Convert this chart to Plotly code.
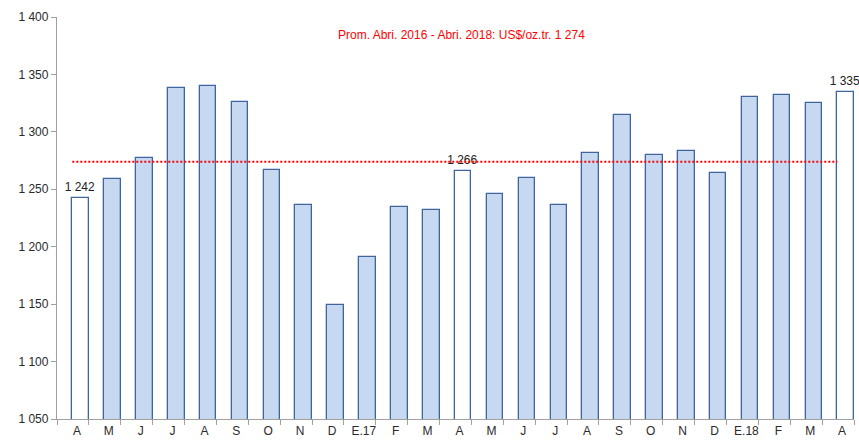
import plotly.graph_objects as go

months = ["A", "M", "J", "J", "A", "S", "O", "N", "D", "E.17", "F", "M",
          "A", "M", "J", "J", "A", "S", "O", "N", "D", "E.18", "F", "M", "A"]
prices = [1242, 1259, 1277, 1338, 1340, 1326, 1267, 1236, 1149, 1191, 1235, 1232,
          1266, 1246, 1260, 1236, 1282, 1315, 1280, 1283, 1264, 1330, 1332, 1325, 1335]
labelled = [0, 12, 24]
average = 1274
title_text = "Prom. Abri. 2016 - Abri. 2018: US$/oz.tr. 1 274"
y_ticks = [1050, 1100, 1150, 1200, 1250, 1300, 1350, 1400]

idx = list(range(len(months)))
fill = ["#FFFFFF" if i in labelled else "#C6D9F1" for i in idx]
texts = [f"{prices[i]:,}".replace(",", " ") if i in labelled else "" for i in idx]

fig = go.Figure()
fig.add_trace(go.Bar(
    x=idx, y=prices, width=0.52, offset=-0.02,
    marker=dict(color=fill, line=dict(color="#40659C", width=1.3)),
    text=texts, textposition="outside", cliponaxis=False, constraintext="none",
    textfont=dict(family="Liberation Sans, Arial", size=12, color="#222222"),
    hoverinfo="x+y", showlegend=False,
))
fig.add_trace(go.Scatter(
    x=[idx[0] - 0.02, idx[-1] - 0.02], y=[average, average],
    mode="lines", line=dict(color="#FF0000", width=2, dash="2px,2px"),
    showlegend=False, hoverinfo="skip",
))
fig.add_annotation(
    x=0.508, y=0.978, xref="paper", yref="paper", text=title_text,
    showarrow=False, font=dict(family="Liberation Sans, Arial", size=12, color="#FF0000"),
)

fig.update_layout(
    width=859, height=440,
    margin=dict(l=57, r=5, t=17, b=21, autoexpand=False),
    plot_bgcolor="white", paper_bgcolor="white",
    separators=", ",
    font=dict(family="Liberation Sans, Arial", size=12, color="#2A2A2A"),
    bargap=0,
)
fig.update_xaxes(
    range=[-0.5, len(months) - 0.5], automargin=False,
    tickmode="array", tickvals=idx, ticktext=months, ticks="",
    ticklabelshift=4,
    showline=True, linecolor="#A0A0A0", linewidth=1.3,
    showgrid=False, zeroline=False,
    minor=dict(tickmode="linear", tick0=0.5, dtick=1, ticks="outside",
               ticklen=5, tickcolor="#A0A0A0", tickwidth=1.3, showgrid=False),
)
fig.update_yaxes(
    range=[1050, 1400], tickvals=y_ticks, tickformat=",d", automargin=False,
    ticks="outside", ticklen=5, tickcolor="#A0A0A0", tickwidth=1.3,
    showline=True, linecolor="#A0A0A0", linewidth=1.3,
    showgrid=False, zeroline=False,
)

fig.write_html("out.html", config={"displayModeBar": False},
               post_script="document.body.style.margin='0';document.body.style.overflow='hidden';")
